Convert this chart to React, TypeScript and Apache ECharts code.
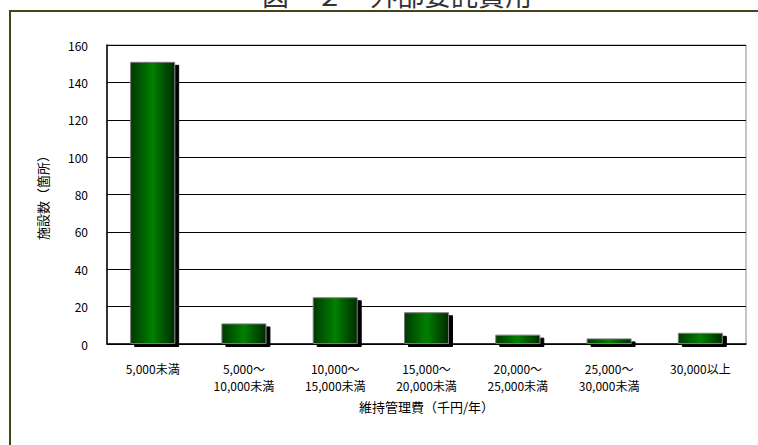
import React, { useEffect, useRef } from "react";
import * as echarts from "echarts";

const categories = [
  "5,000未満",
  "5,000～\n10,000未満",
  "10,000～\n15,000未満",
  "15,000～\n20,000未満",
  "20,000～\n25,000未満",
  "25,000～\n30,000未満",
  "30,000以上",
];
const values = [151, 11, 25, 17, 5, 3, 6];
const yTicks = { min: 0, max: 160, interval: 20 };
const titleText = "図－２　外部委託費用";
const xAxisName = "維持管理費（千円/年）";
const yAxisName = "施設数（箇所）";

const FONT = "'Noto Sans CJK JP', 'Noto Sans', sans-serif";

export default function App() {
  const ref = useRef<HTMLDivElement>(null);
  useEffect(() => {
    if (!ref.current) return;
    const chart = echarts.init(ref.current, null, { renderer: "svg" });
    chart.setOption({
      animation: false,
      backgroundColor: "#ffffff",
      textStyle: { fontFamily: FONT },
      graphic: [
        {
          type: "rect",
          shape: { x: 10, y: 11, width: 800, height: 500 },
          style: { fill: "none", stroke: "#44441a", lineWidth: 2 },
          z: 10,
        },
        {
          type: "text",
          x: 397,
          y: 8,
          style: {
            text: titleText,
            fontSize: 27,
            fontFamily: FONT,
            fill: "#333333",
            align: "center",
            verticalAlign: "bottom",
          },
          z: 10,
        },
      ],
      grid: {
        left: 107,
        top: 45,
        right: 12,
        bottom: 101,
        show: true,
        borderColor: "#8c8c8c",
        borderWidth: 1,
        backgroundColor: "transparent",
      },
      xAxis: {
        type: "category",
        data: categories,
        name: xAxisName,
        nameLocation: "middle",
        nameGap: 56,
        nameTextStyle: { fontSize: 13, color: "#000", fontFamily: FONT },
        axisLine: { lineStyle: { color: "#000", width: 1.5 } },
        axisTick: { inside: true, length: 5, lineStyle: { color: "#000" } },
        axisLabel: {
          interval: 0,
          margin: 16,
          fontSize: 12,
          lineHeight: 17,
          color: "#000",
          fontFamily: FONT,
        },
      },
      yAxis: {
        type: "value",
        min: yTicks.min,
        max: yTicks.max,
        interval: yTicks.interval,
        name: yAxisName,
        nameLocation: "middle",
        nameGap: 58,
        nameTextStyle: { fontSize: 13, color: "#000", fontFamily: FONT },
        axisLine: { show: true, lineStyle: { color: "#000", width: 1.5 } },
        axisTick: { show: false },
        splitLine: { show: true, lineStyle: { color: "#000", width: 1 } },
        axisLabel: { margin: 19, fontSize: 12, color: "#000", fontFamily: FONT },
      },
      series: [
        {
          type: "bar",
          data: values,
          barWidth: 45,
          itemStyle: {
            color: new echarts.graphic.LinearGradient(0, 0, 1, 0, [
              { offset: 0, color: "#003a00" },
              { offset: 0.5, color: "#008000" },
              { offset: 1, color: "#002a00" },
            ]),
            borderColor: "#7a7a7a",
            borderWidth: 1,
            shadowColor: "#000000",
            shadowBlur: 0,
            shadowOffsetX: 4,
            shadowOffsetY: 3,
          },
        },
      ],
    });
    return () => chart.dispose();
  }, []);
  return (
    <div
      ref={ref}
      style={{ position: "fixed", left: 0, top: 0, width: 758, height: 445 }}
    />
  );
}
